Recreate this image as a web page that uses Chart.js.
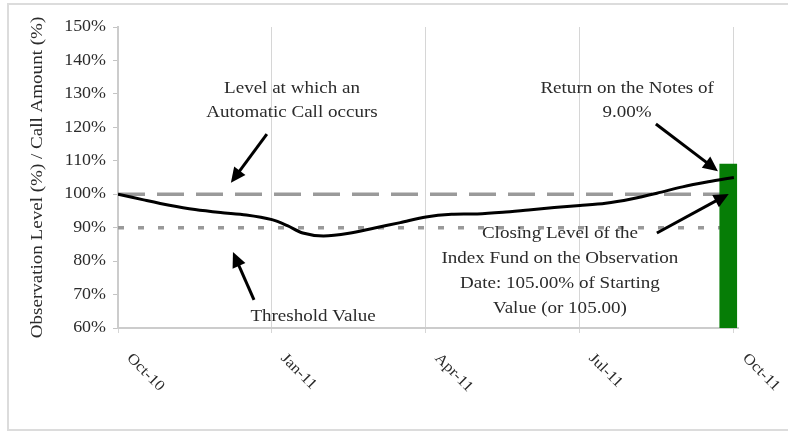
<!DOCTYPE html>
<html>
<head>
<meta charset="utf-8">
<script src="https://cdn.jsdelivr.net/npm/chart.js@4.4.1/dist/chart.umd.min.js"></script>
<style>
    html, body { margin: 0; padding: 0; background: #fff; }
    #wrap { width: 788px; height: 431px; }
</style>
</head>
<body>
<div id="wrap"><canvas id="obsChart" width="788" height="431"></canvas></div>
<script>
// months since Oct-10 and closing level of the index fund (% of starting value)
const months = [0, 0.5, 1, 1.5, 2, 2.5, 3, 3.3, 3.6, 4, 4.5, 5, 5.5, 6, 6.5, 7, 7.5, 8, 8.5, 9, 9.5, 10, 10.5, 11, 11.5, 12];
const closingLevels = [100, 98.3, 96.7, 95.4, 94.5, 93.8, 92.4, 90.6, 88.4, 87.5, 88.3, 89.9, 91.5, 93.2, 94.0, 94.1, 94.6, 95.3, 96.0, 96.6, 97.3, 98.6, 100.3, 102.2, 103.7, 105];

const tickMonths = [0, 3, 6, 9, 12];
const tickLabels = ['Oct-10', 'Jan-11', 'Apr-11', 'Jul-11', 'Oct-11'];

const callLevel = 100;       // automatic call level
const thresholdLevel = 90;   // threshold value
const observationMonth = 11.89;
const callAmount = 109;      // 100% + 9.00% return

const xMax = 12.08;

// annotations, in (month, %) coordinates
const notes = [
    { lines: ['Level at which an', 'Automatic Call occurs'], x: 3.39, y: [130.3, 123.1] },
    { lines: ['Return on the Notes of', '9.00%'], x: 9.92, y: [130.3, 123.1] },
    { lines: ['Threshold Value'], x: 3.80, y: [62.1] },
    { lines: ['Closing Level of the', 'Index Fund on the Observation', 'Date: 105.00% of Starting', 'Value (or 105.00)'], x: 8.61, y: [86.9, 79.4, 72.0, 64.5] }
];
const arrows = [
    { from: [2.90, 118.0], to: [2.20, 103.4] },
    { from: [10.48, 121.0], to: [11.69, 106.9] },
    { from: [2.65, 68.4], to: [2.24, 82.7] },
    { from: [10.50, 88.4], to: [11.90, 100.1] }
];

const FONT = '"Liberation Serif", "Times New Roman", serif';
const TEXT = '#2b2b2b';
const STRETCH = 1.12;

function stretchText(ctx, text, x, y, align, angle) {
    ctx.save();
    ctx.translate(x, y);
    if (angle) ctx.rotate(angle);
    ctx.scale(STRETCH, 1);
    ctx.textAlign = align;
    ctx.fillText(text, 0, 0);
    ctx.restore();
}

function drawArrow(ctx, x1, y1, x2, y2) {
    const ang = Math.atan2(y2 - y1, x2 - x1);
    const head = 15, half = 7;
    ctx.save();
    ctx.strokeStyle = '#000';
    ctx.fillStyle = '#000';
    ctx.lineWidth = 3;
    ctx.beginPath();
    ctx.moveTo(x1, y1);
    ctx.lineTo(x2 - Math.cos(ang) * head * 0.8, y2 - Math.sin(ang) * head * 0.8);
    ctx.stroke();
    ctx.beginPath();
    ctx.moveTo(x2, y2);
    ctx.lineTo(x2 - Math.cos(ang) * head - Math.sin(ang) * half, y2 - Math.sin(ang) * head + Math.cos(ang) * half);
    ctx.lineTo(x2 - Math.cos(ang) * head + Math.sin(ang) * half, y2 - Math.sin(ang) * head - Math.cos(ang) * half);
    ctx.closePath();
    ctx.fill();
    ctx.restore();
}

const decorPlugin = {
    id: 'decor',
    beforeDraw(chart) {
        const ctx = chart.ctx;
        ctx.save();
        ctx.fillStyle = '#fff';
        ctx.fillRect(0, 0, chart.width, chart.height);
        ctx.strokeStyle = '#dcdcdc';
        ctx.lineWidth = 2;
        ctx.beginPath();
        ctx.moveTo(chart.width + 2, 4);
        ctx.lineTo(8, 4);
        ctx.lineTo(8, 430);
        ctx.lineTo(chart.width + 2, 430);
        ctx.stroke();
        ctx.restore();
    },
    afterDraw(chart) {
        const ctx = chart.ctx;
        const xs = chart.scales.x, ys = chart.scales.y;
        const area = chart.chartArea;

        ctx.save();
        ctx.fillStyle = TEXT;
        ctx.textBaseline = 'middle';

        // y tick labels
        ctx.font = '16px ' + FONT;
        ys.ticks.forEach(t => {
            stretchText(ctx, t.value + '%', area.left - 12, ys.getPixelForValue(t.value), 'right');
        });

        // x tick labels, slanted down to the right
        ctx.font = '15px ' + FONT;
        tickMonths.forEach((m, i) => {
            stretchText(ctx, tickLabels[i], xs.getPixelForValue(m) + 11, area.bottom + 28, 'left', Math.PI / 4);
        });

        // y axis title
        ctx.font = '17px ' + FONT;
        stretchText(ctx, 'Observation Level (%) / Call Amount (%)', 38, (area.top + area.bottom) / 2, 'center', -Math.PI / 2);

        // annotations
        ctx.textBaseline = 'alphabetic';
        ctx.font = '17px ' + FONT;
        notes.forEach(n => {
            n.lines.forEach((line, i) => {
                stretchText(ctx, line, xs.getPixelForValue(n.x), ys.getPixelForValue(n.y[i]), 'center');
            });
        });

        arrows.forEach(a => {
            drawArrow(ctx,
                xs.getPixelForValue(a.from[0]), ys.getPixelForValue(a.from[1]),
                xs.getPixelForValue(a.to[0]), ys.getPixelForValue(a.to[1]));
        });
        ctx.restore();
    }
};

const ctx = document.getElementById('obsChart');
new Chart(ctx, {
    type: 'line',
    data: {
        datasets: [
            {
                label: 'Closing Level',
                data: months.map((m, i) => ({ x: m, y: closingLevels[i] })),
                borderColor: '#000',
                borderWidth: 3,
                pointRadius: 0,
                tension: 0.3,
                order: 0
            },
            {
                type: 'bar',
                label: 'Call Amount',
                data: [{ x: observationMonth, y: [60, callAmount] }],
                backgroundColor: '#067d06',
                barThickness: 17,
                order: 1
            },
            {
                label: 'Automatic Call Level',
                data: [{ x: 0, y: callLevel }, { x: xMax, y: callLevel }],
                borderColor: '#9a9a9a',
                borderWidth: 3.5,
                borderDash: [27, 12],
                pointRadius: 0,
                order: 2
            },
            {
                label: 'Threshold Value',
                data: [{ x: 0, y: thresholdLevel }, { x: xMax, y: thresholdLevel }],
                borderColor: '#9a9a9a',
                borderWidth: 3.5,
                borderDash: [6, 14],
                pointRadius: 0,
                order: 3
            }
        ]
    },
    options: {
        responsive: false,
        animation: false,
        events: [],
        layout: { padding: { top: 27, right: 50, left: 0, bottom: 0 } },
        plugins: {
            legend: { display: false },
            tooltip: { enabled: false }
        },
        scales: {
            x: {
                type: 'linear',
                min: 0,
                max: xMax,
                offset: false,
                afterFit: s => { s.height = 103; },
                afterBuildTicks: s => { s.ticks = tickMonths.map(v => ({ value: v })); },
                ticks: { display: false },
                grid: { color: '#d6d6d6', lineWidth: 1, tickLength: 5, offset: false },
                border: { color: '#cccccc', width: 2 }
            },
            y: {
                min: 60,
                max: 150,
                afterFit: s => { s.width = 118; },
                ticks: { display: false, stepSize: 10 },
                grid: { drawOnChartArea: false, tickLength: 5, color: '#c4c4c4' },
                border: { color: '#cccccc', width: 2 }
            }
        }
    },
    plugins: [decorPlugin]
});
</script>
</body>
</html>
